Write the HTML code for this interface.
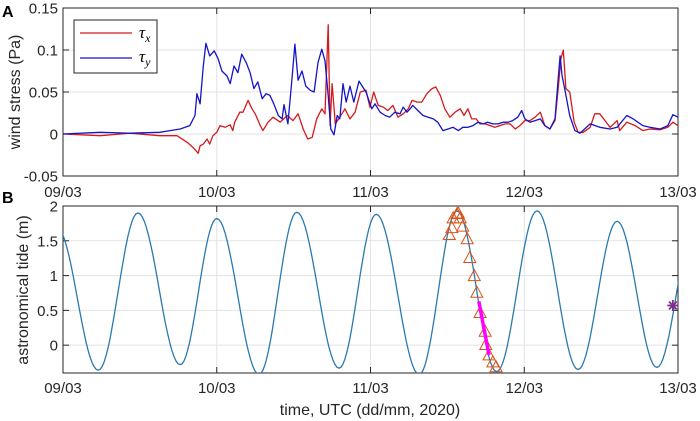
<!DOCTYPE html>
<html><head><meta charset="utf-8"><style>
body{margin:0;background:#fff;}
svg{display:block;font-family:"Liberation Sans",sans-serif;}
</style></head><body>
<svg id="chart" width="700" height="421" viewBox="0 0 700 421"></svg>
<script>
// ---- Panel A data (hours since 09/03 00:00) ----
const dayLabels = ["09/03","10/03","11/03","12/03","13/03"];
const stressTicks = [-0.05,0,0.05,0.1,0.15];
const stressTickLabels = ["-0.05","0","0.05","0.1","0.15"];
const tideTicks = [0,0.5,1,1.5,2];
const tideTickLabels = ["0","0.5","1","1.5","2"];
const tauYHours = [0,5.8,10.5,15.1,16.7,18.3,19.8,20.6,20.9,21.4,21.9,22.3,22.9,23.6,24.2,24.8,25.6,26.1,26.7,27.3,27.9,28.6,29.2,29.8,30.4,31.1,31.7,32.3,32.9,33.6,34.2,34.5,35.1,35.7,36.2,36.7,37.3,37.9,38.6,39.2,39.8,40.4,40.9,41.4,41.8,42.3,42.8,43.2,43.7,44.2,44.8,45.4,46.2,47.3,48.2,48.7,49.5,50.3,51.0,51.8,52.6,53.1,53.7,54.2,54.6,55.4,56.2,57.0,57.8,58.5,59.3,60.1,60.9,61.7,62.4,63.2,64.0,64.8,65.6,66.3,67.1,67.9,68.7,69.5,70.2,71.0,71.6,72.1,72.9,73.7,74.5,75.2,76.0,76.8,77.3,77.6,77.9,78.4,79.1,79.9,80.7,82.3,83.8,85.4,86.5,88.0,89.0,90.5,91.6,93.2,94.4,95.2,96.0];
const tauYValues = [0,0.002,0.001,0.002,0.004,0.006,0.010,0.022,0.048,0.036,0.081,0.108,0.093,0.099,0.090,0.075,0.069,0.060,0.081,0.073,0.095,0.085,0.073,0.054,0.062,0.042,0.048,0.046,0.036,0.022,0.018,0.035,0.012,0.062,0.107,0.064,0.075,0.057,0.052,0.050,0.085,0.101,0.087,0.046,0.006,-0.001,0.022,0.018,0.060,0.038,0.057,0.038,0.063,0.050,0.030,0.036,0.026,0.022,0.020,0.026,0.024,0.032,0.026,0.030,0.034,0.028,0.022,0.020,0.018,0.014,0.004,0.006,0.008,0.004,0.008,0.008,0.010,0.014,0.012,0.014,0.012,0.012,0.014,0.014,0.016,0.020,0.028,0.018,0.014,0.016,0.018,0.010,0.006,0.018,0.066,0.093,0.070,0.050,0.022,0.004,0.001,0.012,0.008,0.006,0.008,0.022,0.018,0.010,0.008,0.006,0.010,0.023,0.020];
const tauXHours = [0,5.8,10.5,15.1,17.8,19.4,20.3,21.1,21.4,21.9,22.5,22.9,23.4,24.0,24.5,25.3,26.1,26.5,26.8,27.6,28.1,28.9,29.5,30.0,30.8,31.2,32.0,32.8,33.9,35.0,35.9,36.7,37.5,38.2,38.9,39.6,40.4,40.9,41.4,41.7,42.0,42.5,43.2,44.0,44.8,45.6,46.4,47.3,47.9,48.5,49.2,50.0,50.7,51.5,52.3,53.1,53.9,54.5,55.3,56.0,56.8,57.6,58.2,58.9,59.6,60.4,61.2,62.0,62.6,63.2,63.8,64.5,65.1,65.9,66.7,67.4,68.2,69.0,69.8,70.6,71.3,72.1,72.9,73.7,74.5,75.2,76.0,76.8,77.3,77.7,78.1,78.5,79.1,79.8,80.4,81.2,82.3,83.0,83.8,84.6,85.4,86.5,86.9,88.0,89.3,90.5,91.6,93.2,94.4,95.2,96.0];
const tauXValues = [0,-0.002,0.001,-0.002,-0.002,-0.010,-0.016,-0.023,-0.014,-0.012,-0.006,-0.012,-0.002,0.002,0.010,0.008,0.011,0.004,0.014,0.026,0.026,0.040,0.030,0.024,0.010,0.004,0.014,0.020,0.014,0.022,0.016,0.024,0.006,-0.006,-0.004,0.018,0.030,0.024,0.130,0.010,0.060,0.012,0.020,0.030,0.018,0.026,0.050,0.052,0.032,0.050,0.034,0.032,0.028,0.034,0.020,0.024,0.030,0.040,0.038,0.038,0.048,0.054,0.056,0.046,0.030,0.020,0.026,0.030,0.022,0.030,0.018,0.018,0.012,0.012,0.010,0.008,0.010,0.012,0.012,0.006,0.010,0.016,0.016,0.020,0.026,0.010,0.006,0.016,0.054,0.089,0.100,0.054,0.050,0.014,0.002,0.002,0.008,0.024,0.024,0.016,0.008,0.016,0.004,0.014,0.010,0.004,0.006,0.005,0.008,0.014,0.010];
// ---- Panel B data ----
const tideExtremaHours = [-1.0,5.5,11.7,18.3,24.0,30.6,36.5,43.1,48.9,55.6,61.5,67.7,74.0,80.4,86.5,92.7,99.0];
const tideExtremaValues = [1.70,-0.36,1.90,-0.28,1.82,-0.42,1.91,-0.33,1.88,-0.42,1.93,-0.38,1.93,-0.35,1.78,-0.32,1.90];
const obsHours = [60.3,60.7,60.9,61.5,61.7,62.0,62.4,63.1,63.5,64.2,64.6,65.1,65.9,66.0,66.5,67.1,67.6];
const obsValues = [1.59,1.69,1.83,1.89,1.90,1.83,1.71,1.53,1.26,1.00,0.76,0.47,0.20,0.01,-0.14,-0.24,-0.31];
const fitHours = [64.9,66.5];
const fitValues = [0.63,-0.14];
const starHour = 95.2, starValue = 0.57;

const NS="http://www.w3.org/2000/svg";
const svg=document.getElementById('chart');
function mk(tag,attrs,parent){const e=document.createElementNS(NS,tag);for(const k in attrs)e.setAttribute(k,attrs[k]);(parent||svg).appendChild(e);return e;}
const L=63,R=678;
const xS=h=>L+(h/96)*(R-L);
const A={top:8,bot:176,min:-0.05,max:0.15,lab:21};
const B={top:206,bot:373,min:-0.4,max:2,lab:20};
const yA=v=>A.bot-(v-A.min)/(A.max-A.min)*(A.bot-A.top);
const yB=v=>B.bot-(v-B.min)/(B.max-B.min)*(B.bot-B.top);
const axisCol="#262626",gridCol="#e3e3e3";

function panel(P,yF,ticks,labels,name){
  const g=mk('g',{});
  
  
  for(let i=0;i<5;i++){const x=xS(i*24);
    const gl=mk('line',{x1:x,x2:x,y1:P.top,y2:P.bot,stroke:gridCol,'stroke-width':1},g);
    
    mk('line',{x1:x,x2:x,y1:P.bot,y2:P.bot-6,stroke:axisCol},g);
    mk('line',{x1:x,x2:x,y1:P.top,y2:P.top+6,stroke:axisCol},g);
    const t=mk('text',{x:x,y:P.bot+P.lab,'text-anchor':'middle','font-size':15,fill:'#262626'},g);
    t.textContent=dayLabels[i];
    
  }
  ticks.forEach((v,i)=>{const y=yF(v);
    if(y>P.top+0.5&&y<P.bot-0.5){const gl=mk('line',{x1:L,x2:R,y1:y,y2:y,stroke:gridCol},g);
      }
    mk('line',{x1:L,x2:L+6,y1:y,y2:y,stroke:axisCol},g);
    mk('line',{x1:R,x2:R-6,y1:y,y2:y,stroke:axisCol},g);
    const t=mk('text',{x:L-5,y:y+5.5,'text-anchor':'end','font-size':15,fill:'#262626'},g);
    t.textContent=labels[i];
    
  });
  const box=mk('rect',{x:L,y:P.top,width:R-L,height:P.bot-P.top,fill:'none',stroke:axisCol,'stroke-width':1},g);
  
}
panel(A,yA,stressTicks,stressTickLabels,'panel-a');
panel(B,yB,tideTicks,tideTickLabels,'panel-b');

function poly(hs,vs,yF,col,w,name){
  const d=hs.map((h,i)=>(i?'L':'M')+xS(h).toFixed(1)+','+yF(vs[i]).toFixed(1)).join('');
  const p=mk('path',{d:d,fill:'none',stroke:col,'stroke-width':w,'stroke-linejoin':'round'});
  return p;
}
mk('clipPath',{id:'clipA'}).appendChild(document.createElementNS(NS,'rect'));
const ca=document.querySelector('#clipA rect');ca.setAttribute('x',L);ca.setAttribute('y',A.top);ca.setAttribute('width',R-L);ca.setAttribute('height',A.bot-A.top);
mk('clipPath',{id:'clipB'}).appendChild(document.createElementNS(NS,'rect'));
const cb=document.querySelector('#clipB rect');cb.setAttribute('x',L);cb.setAttribute('y',B.top);cb.setAttribute('width',R-L);cb.setAttribute('height',B.bot-B.top);

poly(tauXHours,tauXValues,yA,'#d7191c',1.3,'tau-x-line').setAttribute('clip-path','url(#clipA)');
poly(tauYHours,tauYValues,yA,'#1414c8',1.3,'tau-y-line').setAttribute('clip-path','url(#clipA)');

// tide curve: half-cosine between read extrema
let td='';
for(let i=0;i<tideExtremaHours.length-1;i++){
  const h0=tideExtremaHours[i],h1=tideExtremaHours[i+1],v0=tideExtremaValues[i],v1=tideExtremaValues[i+1];
  for(let k=0;k<=20;k++){const f=k/20,h=h0+(h1-h0)*f,v=v0+(v1-v0)*(1-Math.cos(Math.PI*f))/2;
    td+=(td?'L':'M')+xS(h).toFixed(1)+','+yB(v).toFixed(1);}
}
const tide=mk('path',{d:td,fill:'none',stroke:'#2a7ab0','stroke-width':1.3,'clip-path':'url(#clipB)'});


obsHours.forEach((h,i)=>{const x=xS(h),y=yB(obsValues[i]);
  const t=mk('path',{d:`M${x-6},${y+5}L${x},${y-6}L${x+6},${y+5}Z`,fill:'none',stroke:'#d95319','stroke-width':1});
  });
poly(fitHours,fitValues,yB,'#ff00ff',3.5,'fit-line');
const sx=xS(starHour),sy=yB(starValue);
const star=mk('g',{stroke:'#7e2f8e','stroke-width':1.8});

[0,45,90,135].forEach(a=>{const r=a*Math.PI/180;mk('line',{x1:sx-5.5*Math.cos(r),y1:sy-5.5*Math.sin(r),x2:sx+5.5*Math.cos(r),y2:sy+5.5*Math.sin(r)},star);});

// legend
const lg=mk('g',{});
mk('rect',{x:74,y:20,width:83,height:53,fill:'#fff',stroke:'#262626'},lg);
mk('line',{x1:80,x2:132,y1:33,y2:33,stroke:'#d7191c','stroke-width':1.3},lg);
mk('line',{x1:80,x2:132,y1:58,y2:58,stroke:'#1414c8','stroke-width':1.3},lg);
const l1=mk('text',{x:139,y:38,'font-size':17,'font-family':'Liberation Serif, serif','font-style':'italic'},lg);
l1.innerHTML='τ<tspan font-size="12" dy="4">x</tspan>';

const l2=mk('text',{x:139,y:62,'font-size':17,'font-family':'Liberation Serif, serif','font-style':'italic'},lg);
l2.innerHTML='τ<tspan font-size="12" dy="4">y</tspan>';


function txt(s,attrs,name){const t=mk('text',attrs);t.textContent=s;}
txt('A',{x:2,y:17,'font-size':16,'font-weight':'bold'},'panel-a-label');
txt('B',{x:2,y:203,'font-size':16,'font-weight':'bold'},'panel-b-label');
txt('wind stress (Pa)',{x:0,y:0,'font-size':16,'text-anchor':'middle',transform:'translate(20,92) rotate(-90)',fill:'#262626'},'panel-a-y-title');
txt('astronomical tide (m)',{x:0,y:0,'font-size':16,'text-anchor':'middle',transform:'translate(28,290) rotate(-90)',fill:'#262626'},'panel-b-y-title');
txt('time, UTC (dd/mm, 2020)',{x:370,y:415,'font-size':16,'text-anchor':'middle',fill:'#262626'},'x-axis-title');
</script>
</body></html>
